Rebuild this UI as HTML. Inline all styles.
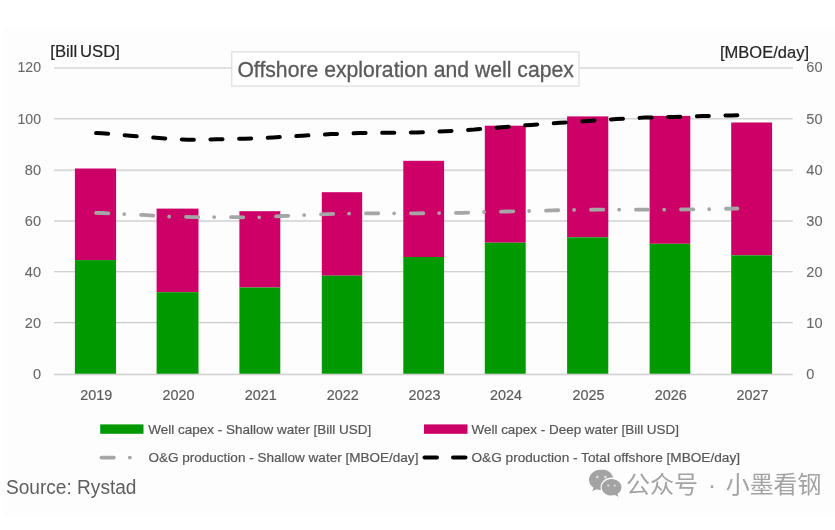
<!DOCTYPE html>
<html><head><meta charset="utf-8"><title>Offshore exploration and well capex</title>
<style>
html,body{margin:0;padding:0;background:#fff;}
body{width:835px;height:530px;overflow:hidden;position:relative;font-family:"Liberation Sans","Noto Sans CJK SC",sans-serif;}
#panel{position:absolute;left:3px;top:28px;width:832px;height:488px;background:#fdfdfd;}
svg{position:absolute;left:0;top:0;}
text{font-family:"Liberation Sans","Noto Sans CJK SC",sans-serif;}
.ax{font-size:14.6px;fill:#686868;stroke:#686868;stroke-width:.1;}
.yr{font-size:14.7px;fill:#5c5c5c;stroke:#5c5c5c;stroke-width:.2;}
.lg{font-size:13.3px;fill:#565656;stroke:#565656;stroke-width:.2;}
.un{font-size:16px;word-spacing:-1.6px;fill:#262626;stroke:#262626;stroke-width:.2;}
</style></head><body>
<div id="panel"></div>
<svg width="835" height="530" viewBox="0 0 835 530">
<defs><filter id="soft" x="0" y="0" width="835" height="530" filterUnits="userSpaceOnUse"><feGaussianBlur stdDeviation="0.42"/></filter></defs>
<g filter="url(#soft)">

<line x1="54" x2="792.8" y1="68.0" y2="68.0" stroke="#d6d6d6" stroke-width="1.5"/>
<line x1="54" x2="792.8" y1="118.7" y2="118.7" stroke="#d5d5d5" stroke-width="1.6"/>
<line x1="54" x2="792.8" y1="170.2" y2="170.2" stroke="#dbdbdb" stroke-width="2.0"/>
<line x1="54" x2="792.8" y1="221.0" y2="221.0" stroke="#dcdcdc" stroke-width="2.2"/>
<line x1="54" x2="792.8" y1="271.75" y2="271.75" stroke="#c2c2c2" stroke-width="1.1"/>
<line x1="54" x2="792.8" y1="322.7" y2="322.7" stroke="#bebebe" stroke-width="1.0"/>
<rect x="74.9" y="168.5" width="41.2" height="91.6" fill="#cc0066"/>
<rect x="74.9" y="260.1" width="41.2" height="113.8" fill="#009900"/>
<rect x="156.6" y="208.6" width="41.9" height="83.6" fill="#cc0066"/>
<rect x="156.6" y="292.2" width="41.9" height="81.7" fill="#009900"/>
<rect x="239.4" y="211.2" width="40.9" height="76.3" fill="#cc0066"/>
<rect x="239.4" y="287.5" width="40.9" height="86.4" fill="#009900"/>
<rect x="321.8" y="192.2" width="40.4" height="83.5" fill="#cc0066"/>
<rect x="321.8" y="275.7" width="40.4" height="98.2" fill="#009900"/>
<rect x="403.3" y="160.8" width="40.8" height="96.2" fill="#cc0066"/>
<rect x="403.3" y="257.0" width="40.8" height="116.9" fill="#009900"/>
<rect x="484.8" y="125.7" width="40.9" height="117.0" fill="#cc0066"/>
<rect x="484.8" y="242.7" width="40.9" height="131.2" fill="#009900"/>
<rect x="567.1" y="116.4" width="41.2" height="120.9" fill="#cc0066"/>
<rect x="567.1" y="237.3" width="41.2" height="136.6" fill="#009900"/>
<rect x="649.6" y="115.9" width="40.7" height="127.9" fill="#cc0066"/>
<rect x="649.6" y="243.8" width="40.7" height="130.1" fill="#009900"/>
<rect x="731.2" y="122.5" width="40.9" height="132.8" fill="#cc0066"/>
<rect x="731.2" y="255.3" width="40.9" height="118.6" fill="#009900"/>
<line x1="54" x2="792.8" y1="374.6" y2="374.6" stroke="#d0d0d0" stroke-width="1.5"/>
<polyline points="96.1,212.9 102.0,213.0 124.0,214.2 147.0,215.2 169.4,216.6 191.9,217.1 214.3,217.1 236.8,217.2 244.0,217.3 259.0,217.3 282.3,216.0 304.2,215.2 327.2,214.1 349.1,213.6 372.0,213.3 394.5,213.3 417.0,213.3 439.4,213.1 461.7,212.8 484.4,212.0 506.8,211.5 529.3,211.0 552.3,210.4 574.2,209.9 597.2,209.7 619.6,209.7 642.0,209.7 664.6,209.7 687.0,209.4 709.5,209.1 732.0,208.6 737.4,208.5" fill="none" stroke="#a6a6a6" stroke-width="3.8" stroke-linecap="round" stroke-dasharray="12.3 15.85 0.01 16.85"/>
<polyline points="96.1,133.1 102.0,133.2 130.0,135.8 159.0,138.0 188.0,139.8 216.0,139.3 245.0,138.7 273.0,137.5 302.0,135.7 331.0,134.1 359.4,133.1 388.0,132.8 417.0,132.5 445.0,131.3 474.3,129.6 502.0,127.2 531.0,124.9 560.0,122.8 588.0,120.9 616.4,119.1 644.7,117.6 673.9,116.9 702.4,116.1 731.2,115.4 737.4,115.3" fill="none" stroke="#000" stroke-width="4" stroke-linecap="round" stroke-dasharray="12.1 16.55"/>
<rect x="231.8" y="51.9" width="347.2" height="34.2" fill="#fff" stroke="#d9d9d9" stroke-width="1.1"/>
<text x="237.4" y="76.8" font-size="21.4" fill="#5a5a5a" stroke="#5a5a5a" stroke-width=".3" textLength="336.5" lengthAdjust="spacingAndGlyphs">Offshore exploration and well capex</text>
<text class="un" x="50.3" y="57.2" textLength="69.5" lengthAdjust="spacingAndGlyphs">[Bill USD]</text>
<text class="un" style="font-size:16.6px" x="720" y="58.0" textLength="89" lengthAdjust="spacingAndGlyphs">[MBOE/day]</text>
<text class="ax" x="17.50" y="71.9" textLength="23.50" lengthAdjust="spacingAndGlyphs">120</text>
<text class="ax" x="806.3" y="71.9" textLength="16.20" lengthAdjust="spacingAndGlyphs">60</text>
<text class="ax" x="17.50" y="124.2" textLength="23.50" lengthAdjust="spacingAndGlyphs">100</text>
<text class="ax" x="806.3" y="124.2" textLength="16.20" lengthAdjust="spacingAndGlyphs">50</text>
<text class="ax" x="24.80" y="174.7" textLength="16.20" lengthAdjust="spacingAndGlyphs">80</text>
<text class="ax" x="806.3" y="174.7" textLength="16.20" lengthAdjust="spacingAndGlyphs">40</text>
<text class="ax" x="24.80" y="226.1" textLength="16.20" lengthAdjust="spacingAndGlyphs">60</text>
<text class="ax" x="806.3" y="226.1" textLength="16.20" lengthAdjust="spacingAndGlyphs">30</text>
<text class="ax" x="24.80" y="277.1" textLength="16.20" lengthAdjust="spacingAndGlyphs">40</text>
<text class="ax" x="806.3" y="277.1" textLength="16.20" lengthAdjust="spacingAndGlyphs">20</text>
<text class="ax" x="24.80" y="328.3" textLength="16.20" lengthAdjust="spacingAndGlyphs">20</text>
<text class="ax" x="806.3" y="328.3" textLength="16.20" lengthAdjust="spacingAndGlyphs">10</text>
<text class="ax" x="32.90" y="378.9" textLength="8.10" lengthAdjust="spacingAndGlyphs">0</text>
<text class="ax" x="806.3" y="378.9" textLength="8.10" lengthAdjust="spacingAndGlyphs">0</text>
<text class="yr" x="80.3" y="399.8" textLength="32" lengthAdjust="spacingAndGlyphs">2019</text>
<text class="yr" x="162.4" y="399.8" textLength="32" lengthAdjust="spacingAndGlyphs">2020</text>
<text class="yr" x="244.7" y="399.8" textLength="32" lengthAdjust="spacingAndGlyphs">2021</text>
<text class="yr" x="326.8" y="399.8" textLength="32" lengthAdjust="spacingAndGlyphs">2022</text>
<text class="yr" x="408.5" y="399.8" textLength="32" lengthAdjust="spacingAndGlyphs">2023</text>
<text class="yr" x="490.1" y="399.8" textLength="32" lengthAdjust="spacingAndGlyphs">2024</text>
<text class="yr" x="572.5" y="399.8" textLength="32" lengthAdjust="spacingAndGlyphs">2025</text>
<text class="yr" x="654.8" y="399.8" textLength="32" lengthAdjust="spacingAndGlyphs">2026</text>
<text class="yr" x="736.5" y="399.8" textLength="32" lengthAdjust="spacingAndGlyphs">2027</text>
<rect x="100.2" y="424.4" width="43.3" height="9.4" fill="#009900"/>
<text class="lg" x="148.3" y="433.6" textLength="223" lengthAdjust="spacingAndGlyphs">Well capex - Shallow water [Bill USD]</text>
<rect x="424" y="424.4" width="43.5" height="9.4" fill="#cc0066"/>
<text class="lg" x="471.5" y="433.6" textLength="207.5" lengthAdjust="spacingAndGlyphs">Well capex - Deep water [Bill USD]</text>
<line x1="101.5" x2="113.8" y1="457.6" y2="457.6" stroke="#a6a6a6" stroke-width="3.8" stroke-linecap="round"/>
<circle cx="129.8" cy="457.6" r="1.9" fill="#a6a6a6"/>
<text class="lg" x="148.4" y="462" textLength="270" lengthAdjust="spacingAndGlyphs">O&amp;G production - Shallow water [MBOE/day]</text>
<line x1="424.5" x2="437" y1="457.6" y2="457.6" stroke="#000" stroke-width="4" stroke-linecap="round"/>
<line x1="453" x2="465.5" y1="457.6" y2="457.6" stroke="#000" stroke-width="4" stroke-linecap="round"/>
<text class="lg" x="471.5" y="462" textLength="268.5" lengthAdjust="spacingAndGlyphs">O&amp;G production - Total offshore [MBOE/day]</text>
<text x="5.9" y="494.3" font-size="20" fill="#5e5e5e" textLength="130.6" lengthAdjust="spacingAndGlyphs">Source: Rystad</text>
<g fill="#a3a3a3">
<path d="M601.5 469.500c-6.900 0-12.500 4.600-12.500 10.300 0 3.200 1.800 6 4.500 7.900l-1.200 3.600 4.100-2.100c1.500.4 3 .7 4.600.7-.3-.9-.4-1.800-.4-2.800 0-5.300 5-9.500 11.200-9.500.5 0 1 0 1.500.1-1.100-4.700-6-8.200-11.800-8.200z"/>
<path d="M621.500 487.300c0-4.500-4.500-8.200-9.900-8.200-5.500 0-9.900 3.700-9.900 8.200 0 4.600 4.400 8.300 9.900 8.300 1.200 0 2.400-.2 3.500-.5l3.300 1.800-.9-3c2.400-1.600 4-4 4-6.600z"/>
</g>
<circle cx="597.300" cy="477" r="1.300" fill="#e2e2e2"/><circle cx="605.400" cy="477" r="1.300" fill="#e2e2e2"/>
<circle cx="608.300" cy="485.500" r="1.100" fill="#e2e2e2"/><circle cx="614.800" cy="485.500" r="1.100" fill="#e2e2e2"/>
<g font-size="24" fill="#a3a3a3">
<text x="626" y="492.600" textLength="72" lengthAdjust="spacingAndGlyphs">公众号</text>
<text x="711.900" y="492.600" text-anchor="middle">·</text>
<text x="725.800" y="492.600" textLength="95.600" lengthAdjust="spacingAndGlyphs">小墨看钢</text>
</g>

</g></svg></body></html>
